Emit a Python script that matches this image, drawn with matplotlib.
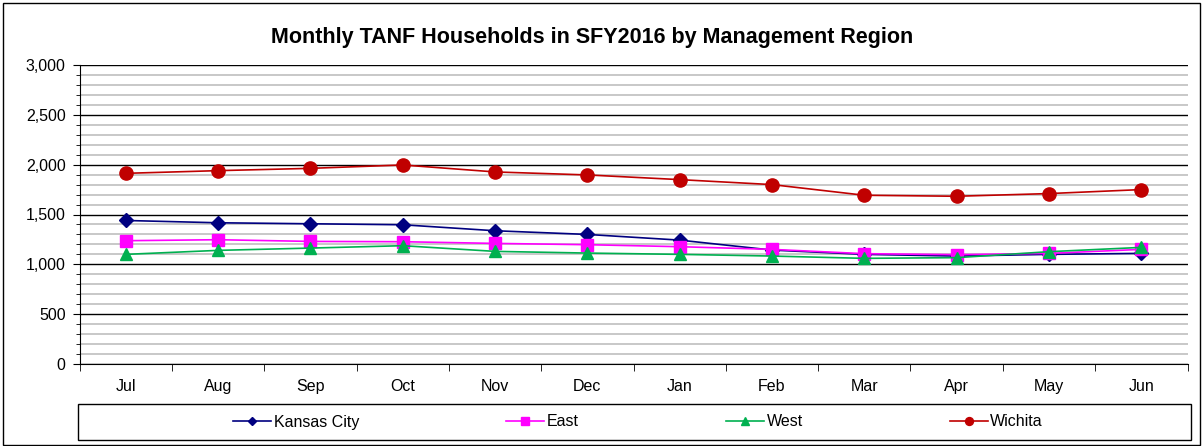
import numpy as np
import matplotlib.pyplot as plt
from matplotlib.patches import Rectangle
from matplotlib.ticker import MultipleLocator, FuncFormatter

plt.rcParams['font.family'] = ['Liberation Sans', 'DejaVu Sans']

months = ["Jul", "Aug", "Sep", "Oct", "Nov", "Dec", "Jan", "Feb", "Mar", "Apr", "May", "Jun"]
kansas_city = [1440, 1417, 1407, 1397, 1337, 1300, 1243, 1143, 1100, 1083, 1100, 1110]
east = [1237, 1247, 1230, 1227, 1210, 1197, 1177, 1150, 1107, 1097, 1110, 1150]
west = [1100, 1140, 1163, 1187, 1130, 1113, 1100, 1083, 1060, 1067, 1127, 1170]
wichita = [1913, 1940, 1963, 1997, 1927, 1897, 1850, 1800, 1693, 1683, 1710, 1750]

W, H = 1204, 446
fig = plt.figure(figsize=(W / 100, H / 100), dpi=100)
ax = fig.add_axes([79.5/W, 1 - 364/H, 1108/W, 299/H])

x = np.arange(len(months))
ax.plot(x, kansas_city, color="#000080", marker="D", markersize=7, lw=1.2, label="Kansas City")
ax.plot(x, east, color="#FF00FF", marker="s", markersize=8.5, lw=1.2, label="East")
ax.plot(x, west, color="#00B050", marker="^", markersize=8.5, lw=1.2, label="West")
ax.plot(x, wichita, color="#C00000", marker="o", markersize=9.5, lw=1.2, label="Wichita")

ax.set_xlim(-0.5, 11.5)
ax.set_ylim(0, 3000)
ax.set_xticks(x)
ax.set_xticklabels(months, fontsize=11.5)
ax.set_xticks(np.arange(-0.5, 12, 1), minor=True)
ax.tick_params(axis="x", which="major", length=0, pad=11)
ax.tick_params(axis="x", which="minor", length=5, color="black")
ax.yaxis.set_major_locator(MultipleLocator(500))
ax.yaxis.set_minor_locator(MultipleLocator(100))
ax.yaxis.set_major_formatter(FuncFormatter(lambda v, p: f"{int(v):,}"))
ax.tick_params(axis="y", which="major", length=5, labelsize=11.5, color="black", pad=5)
ax.tick_params(axis="y", which="minor", length=3, color="black")
ax.grid(axis="y", which="minor", color="#BFBFBF", lw=1.2)
ax.grid(axis="y", which="major", color="black", lw=1)
ax.set_axisbelow(True)
for s in ["top", "right"]:
    ax.spines[s].set_visible(False)

fig.text(592/W, 1 - 37/H, "Monthly TANF Households in SFY2016 by Management Region",
         ha="center", va="center", fontsize=15.5, fontweight="bold")

# legend box
fig.patches.append(Rectangle((78/W, 1 - 440/H), 1113/W, 36/H, transform=fig.transFigure,
                             fill=False, edgecolor="black", lw=1))
leg = fig.legend(loc="center", bbox_to_anchor=(638/W, 1 - 422/H), ncol=4, frameon=False,
                 fontsize=11.5, markerscale=0.6, handlelength=2.4, handletextpad=0.15,
                 columnspacing=9.2, borderaxespad=0)

# outer chart border
fig.patches.append(Rectangle((3/W, 1.5/H), 1197/W, 442/H, transform=fig.transFigure,
                             fill=False, edgecolor="black", lw=1))

fig.savefig("out.png", dpi=100)
